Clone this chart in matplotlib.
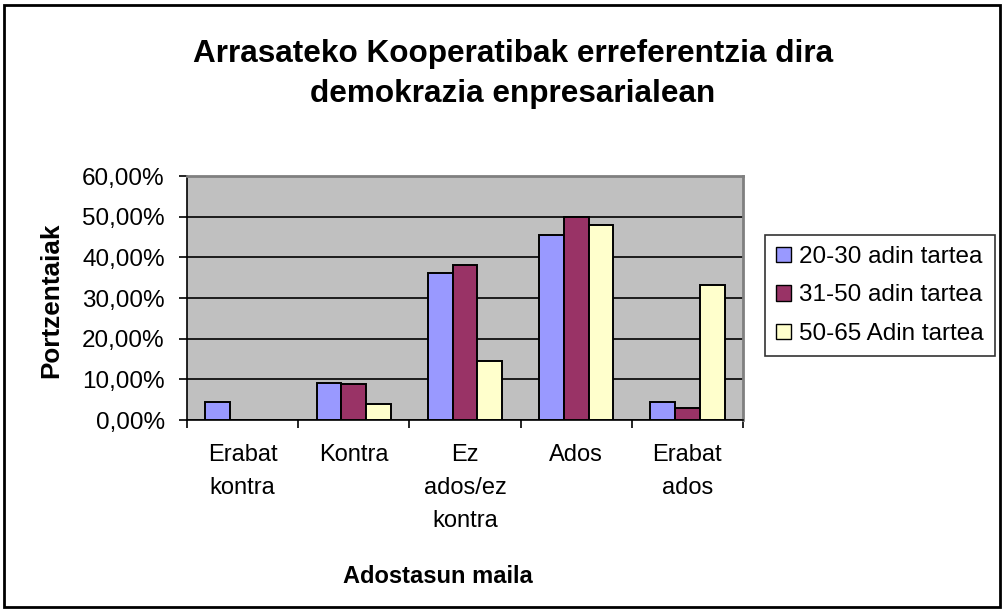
import numpy as np
import matplotlib
matplotlib.use('Agg')
import matplotlib.pyplot as plt
from matplotlib.patches import Patch, Rectangle
from matplotlib.ticker import FixedLocator

plt.rcParams['font.family'] = ['Liberation Sans', 'DejaVu Sans']

# Data (percent)
categories = ['Erabat\nkontra', 'Kontra', 'Ez\nados/ez\nkontra', 'Ados', 'Erabat\nados']
series_names = ['20-30 adin tartea', '31-50 adin tartea', '50-65 Adin tartea']
age_20_30 = [4.35, 9.15, 36.2, 45.5, 4.35]
age_31_50 = [0.0, 8.75, 38.2, 50.0, 2.9]
age_50_65 = [0.0, 4.0, 14.6, 48.0, 33.3]
y_ticks = [0, 10, 20, 30, 40, 50, 60]
y_tick_labels = ['0,00%', '10,00%', '20,00%', '30,00%', '40,00%', '50,00%', '60,00%']

colors = ['#9999FF', '#993366', '#FFFFCC']

W, H = 1005, 611
fig = plt.figure(figsize=(W / 100, H / 100), dpi=100)
ax = fig.add_axes([187 / W, 1 - 420 / H, 556 / W, 244 / H])
ax.set_facecolor('#C0C0C0')

x = np.arange(len(categories))
width = 0.223
all_series = [age_20_30, age_31_50, age_50_65]
for i, vals in enumerate(all_series):
    ax.bar(x + (i - 1) * width, vals, width, color=colors[i],
           edgecolor='black', linewidth=1.4, zorder=3)

ax.set_xlim(-0.5, len(categories) - 0.5)
ax.set_ylim(0, 60)
ax.set_yticks(y_ticks)
ax.set_yticklabels(y_tick_labels, fontsize=17.5)
ax.yaxis.grid(True, color='black', linewidth=1.2, zorder=1)
ax.set_axisbelow(True)

ax.set_xticks(x)
ax.set_xticklabels(categories, fontsize=17, linespacing=1.65, va='top')
ax.tick_params(axis='x', which='major', length=0, pad=17)
ax.xaxis.set_minor_locator(FixedLocator(np.arange(-0.5, len(categories), 1.0)))
ax.tick_params(axis='x', which='minor', length=6, width=1.2, direction='out')
ax.tick_params(axis='y', length=6, width=1.2, direction='out', pad=10)

for side in ['top', 'right']:
    ax.spines[side].set_color('#808080')
    ax.spines[side].set_linewidth(2)
for side in ['left', 'bottom']:
    ax.spines[side].set_color('black')
    ax.spines[side].set_linewidth(1.2)

# axis titles
fig.text(51 / W, 1 - 300 / H, 'Portzentaiak', rotation=90, ha='center', va='center',
         fontsize=18.8, fontweight='bold')
fig.text(438 / W, 1 - 583 / H, 'Adostasun maila', ha='center', va='baseline',
         fontsize=17, fontweight='bold')

# chart title
fig.text(513 / W, 1 - 62 / H, 'Arrasateko Kooperatibak erreferentzia dira',
         ha='center', va='baseline', fontsize=22.7, fontweight='bold')
fig.text(513 / W, 1 - 102 / H, 'demokrazia enpresarialean',
         ha='center', va='baseline', fontsize=22.7, fontweight='bold')

handles = [Patch(facecolor=colors[i], edgecolor='black', linewidth=1.0) for i in range(3)]
leg = fig.legend(handles, series_names, loc='upper left',
                 bbox_to_anchor=(765 / W, 1 - 235 / H), fontsize=17.5,
                 frameon=True, fancybox=False, handlelength=0.6, handleheight=0.6,
                 handletextpad=0.35, labelspacing=0.68, borderpad=0.45, borderaxespad=0)
leg.get_frame().set_edgecolor('black')
leg.get_frame().set_linewidth(1.2)

fig.patches.append(Rectangle((4 / W, 4 / H), 996 / W, 602 / H,
                             transform=fig.transFigure, fill=False,
                             edgecolor='black', linewidth=2))

fig.savefig('out.png', dpi=100)
